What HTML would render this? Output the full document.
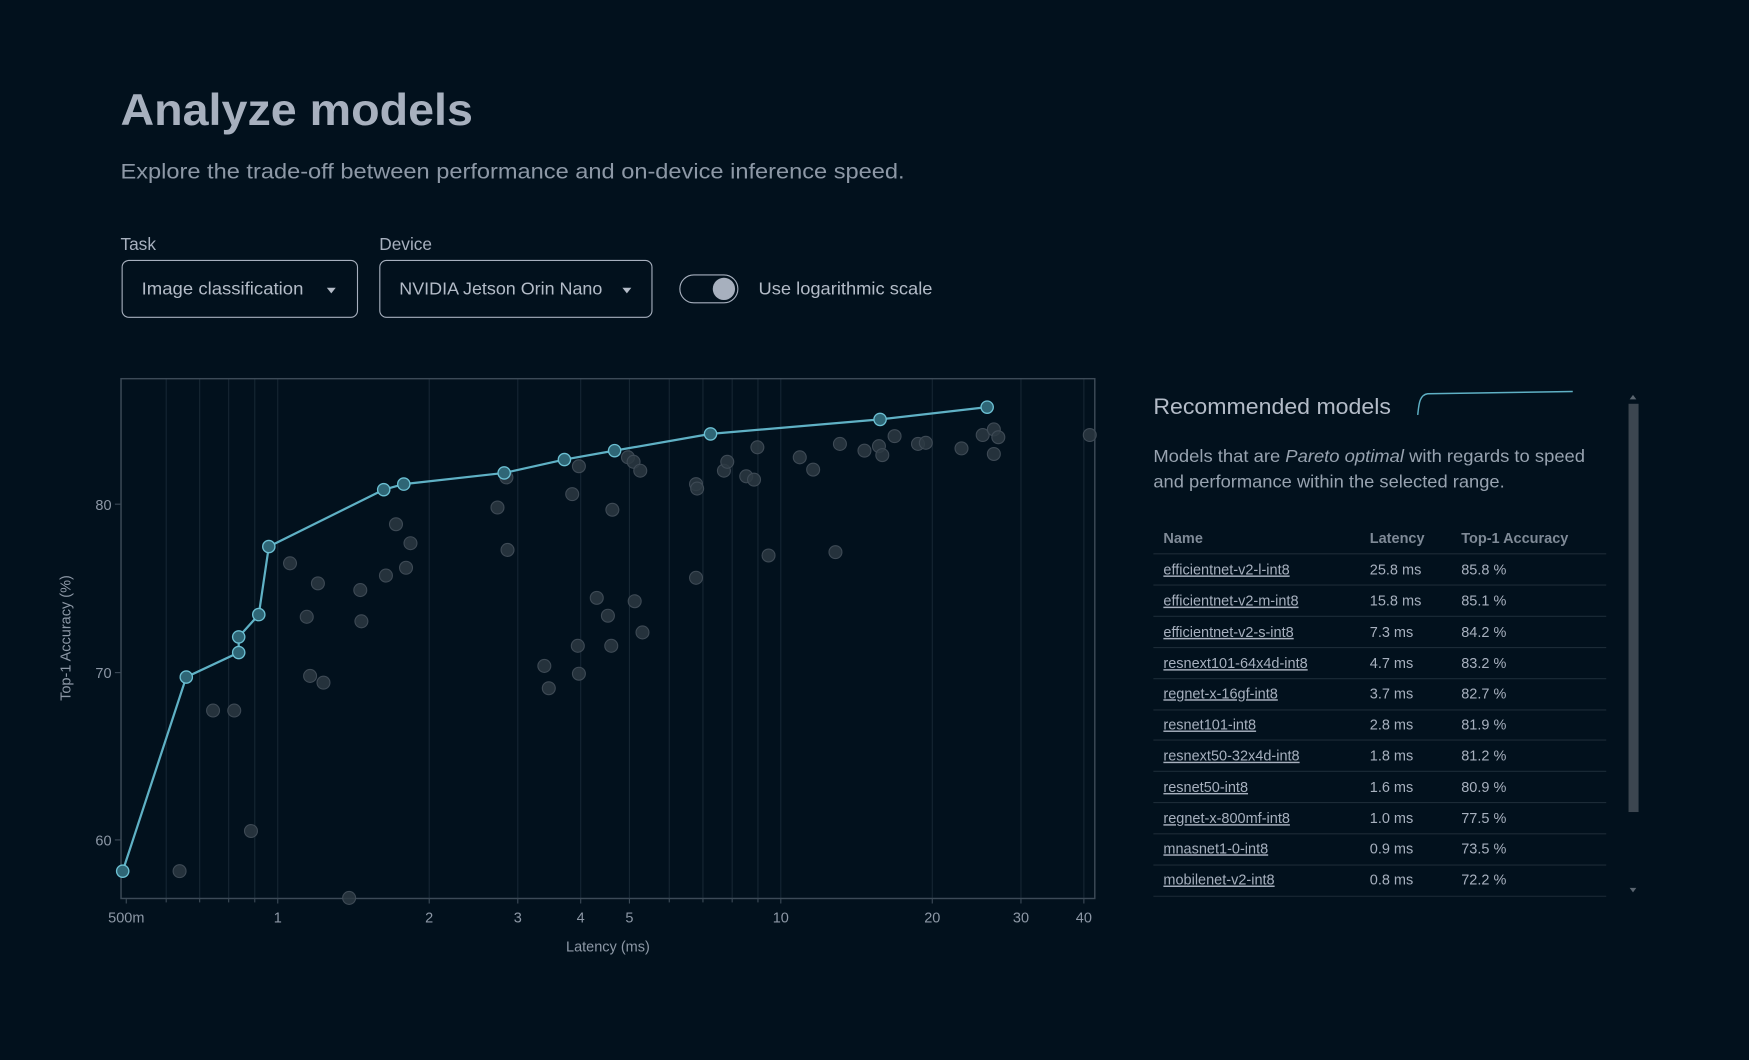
<!DOCTYPE html>
<html><head><meta charset="utf-8"><style>
html,body{margin:0;padding:0;background:#02111d;width:1749px;height:1060px;overflow:hidden}
svg{display:block}
text{font-family:"Liberation Sans",sans-serif}
</style></head><body>
<svg width="1749" height="1060" viewBox="0 0 1568 950.3" xmlns="http://www.w3.org/2000/svg">
<rect width="1568" height="951" fill="#02111d"/>
<text x="108" y="112" font-size="40" font-weight="bold" fill="#a7b0be" textLength="316" lengthAdjust="spacingAndGlyphs">Analyze models</text>
<text x="108" y="160" font-size="19" fill="#8d98a6" textLength="703" lengthAdjust="spacingAndGlyphs">Explore the trade-off between performance and on-device inference speed.</text>
<text x="108" y="224" font-size="15.5" fill="#a7b0be">Task</text>
<text x="340" y="224" font-size="15.5" fill="#a7b0be">Device</text>
<rect x="109.5" y="233.5" width="211" height="51" rx="6" fill="none" stroke="#a7b0be" stroke-width="1"/>
<text x="127" y="264" font-size="15.5" fill="#b4bcc8" textLength="145" lengthAdjust="spacingAndGlyphs">Image classification</text>
<path d="M293 258h8l-4 5z" fill="#b4bcc8"/>
<rect x="340.5" y="233.5" width="244" height="51" rx="6" fill="none" stroke="#a7b0be" stroke-width="1"/>
<text x="358" y="264" font-size="15.5" fill="#b4bcc8" textLength="182" lengthAdjust="spacingAndGlyphs">NVIDIA Jetson Orin Nano</text>
<path d="M558 258h8l-4 5z" fill="#b4bcc8"/>
<rect x="609.5" y="246.5" width="52" height="25" rx="12.5" fill="none" stroke="#a7b0be"/>
<circle cx="649" cy="259" r="10" fill="#a7b0be"/>
<text x="680" y="264" font-size="15.5" fill="#b4bcc8" textLength="156" lengthAdjust="spacingAndGlyphs">Use logarithmic scale</text>

<!-- plot -->
<g stroke="#162633" stroke-width="1">
<line x1="149" y1="340" x2="149" y2="805"/><line x1="179" y1="340" x2="179" y2="805"/>
<line x1="205" y1="340" x2="205" y2="805"/><line x1="228.4" y1="340" x2="228.4" y2="805"/>
<line x1="249" y1="340" x2="249" y2="805"/><line x1="384.8" y1="340" x2="384.8" y2="805"/>
<line x1="464.2" y1="340" x2="464.2" y2="805"/><line x1="520.6" y1="340" x2="520.6" y2="805"/>
<line x1="564.3" y1="340" x2="564.3" y2="805"/><line x1="600" y1="340" x2="600" y2="805"/>
<line x1="630.2" y1="340" x2="630.2" y2="805"/><line x1="656.4" y1="340" x2="656.4" y2="805"/>
<line x1="679.5" y1="340" x2="679.5" y2="805"/><line x1="700" y1="340" x2="700" y2="805"/>
<line x1="835.8" y1="340" x2="835.8" y2="805"/><line x1="915.3" y1="340" x2="915.3" y2="805"/>
<line x1="971.7" y1="340" x2="971.7" y2="805"/>
</g>
<rect x="108.5" y="339.5" width="873" height="466" fill="none" stroke="#3c4a57" stroke-width="1.3"/>
<g stroke="#3c4a57" stroke-width="1">
<line x1="113.2" y1="805" x2="113.2" y2="810"/><line x1="149" y1="805" x2="149" y2="809"/><line x1="179" y1="805" x2="179" y2="809"/><line x1="205" y1="805" x2="205" y2="809"/><line x1="228.4" y1="805" x2="228.4" y2="809"/><line x1="249" y1="805" x2="249" y2="810"/><line x1="384.8" y1="805" x2="384.8" y2="810"/><line x1="464.2" y1="805" x2="464.2" y2="810"/><line x1="520.6" y1="805" x2="520.6" y2="810"/><line x1="564.3" y1="805" x2="564.3" y2="810"/><line x1="600" y1="805" x2="600" y2="809"/><line x1="630.2" y1="805" x2="630.2" y2="809"/><line x1="656.4" y1="805" x2="656.4" y2="809"/><line x1="679.5" y1="805" x2="679.5" y2="809"/><line x1="700" y1="805" x2="700" y2="810"/><line x1="835.8" y1="805" x2="835.8" y2="810"/><line x1="915.3" y1="805" x2="915.3" y2="810"/><line x1="971.7" y1="805" x2="971.7" y2="810"/>
<line x1="103" y1="452" x2="108" y2="452"/><line x1="103" y1="603" x2="108" y2="603"/><line x1="103" y1="753" x2="108" y2="753"/>
</g>
<g font-size="13" fill="#8d98a6" text-anchor="middle">
<text x="113.2" y="827">500m</text><text x="249" y="827">1</text><text x="384.8" y="827">2</text><text x="464.2" y="827">3</text><text x="520.6" y="827">4</text><text x="564.3" y="827">5</text><text x="700" y="827">10</text><text x="835.8" y="827">20</text><text x="915.3" y="827">30</text><text x="971.7" y="827">40</text>
<text x="545" y="853">Latency (ms)</text>
<text transform="translate(63,572) rotate(-90)">Top-1 Accuracy (%)</text>
</g>
<g font-size="13" fill="#8d98a6" text-anchor="end">
<text x="100" y="457">80</text><text x="100" y="608">70</text><text x="100" y="758">60</text>
</g>
<g fill="#2c3842" fill-opacity="0.85" stroke="#3e4a55" stroke-width="1">
<circle cx="161" cy="781" r="5.8"/><circle cx="191" cy="637" r="5.8"/><circle cx="210" cy="637" r="5.8"/><circle cx="225" cy="745" r="5.8"/><circle cx="260" cy="505" r="5.8"/><circle cx="275" cy="553" r="5.8"/><circle cx="285" cy="523" r="5.8"/><circle cx="278" cy="606" r="5.8"/><circle cx="290" cy="612" r="5.8"/><circle cx="323" cy="529" r="5.8"/><circle cx="324" cy="557" r="5.8"/><circle cx="346" cy="516" r="5.8"/><circle cx="355" cy="470" r="5.8"/><circle cx="364" cy="509" r="5.8"/><circle cx="368" cy="487" r="5.8"/><circle cx="313" cy="805" r="5.8"/><circle cx="446" cy="455" r="5.8"/><circle cx="455" cy="493" r="5.8"/><circle cx="454" cy="428" r="5.8"/><circle cx="488" cy="597" r="5.8"/><circle cx="492" cy="617" r="5.8"/><circle cx="513" cy="443" r="5.8"/><circle cx="519" cy="418" r="5.8"/><circle cx="518" cy="579" r="5.8"/><circle cx="519" cy="604" r="5.8"/><circle cx="535" cy="536" r="5.8"/><circle cx="545" cy="552" r="5.8"/><circle cx="548" cy="579" r="5.8"/><circle cx="549" cy="457" r="5.8"/><circle cx="563" cy="410" r="5.8"/><circle cx="568" cy="414" r="5.8"/><circle cx="569" cy="539" r="5.8"/><circle cx="574" cy="422" r="5.8"/><circle cx="576" cy="567" r="5.8"/><circle cx="624" cy="434" r="5.8"/><circle cx="625" cy="438" r="5.8"/><circle cx="624" cy="518" r="5.8"/><circle cx="649" cy="422" r="5.8"/><circle cx="652" cy="414" r="5.8"/><circle cx="669" cy="427" r="5.8"/><circle cx="676" cy="430" r="5.8"/><circle cx="679" cy="401" r="5.8"/><circle cx="689" cy="498" r="5.8"/><circle cx="717" cy="410" r="5.8"/><circle cx="729" cy="421" r="5.8"/><circle cx="749" cy="495" r="5.8"/><circle cx="753" cy="398" r="5.8"/><circle cx="775" cy="404" r="5.8"/><circle cx="788" cy="400" r="5.8"/><circle cx="791" cy="408" r="5.8"/><circle cx="802" cy="391" r="5.8"/><circle cx="823" cy="398" r="5.8"/><circle cx="830" cy="397" r="5.8"/><circle cx="862" cy="402" r="5.8"/><circle cx="881" cy="390" r="5.8"/><circle cx="891" cy="385" r="5.8"/><circle cx="891" cy="407" r="5.8"/><circle cx="895" cy="392" r="5.8"/><circle cx="977" cy="390" r="5.8"/>
</g>
<polyline fill="none" stroke="#5fb1c5" stroke-width="2" points="110,781 167,607 214,585 214,571 232,551 241,490 344,439 362,434 452,424 506,412 551,404 637,389 789,376 885,365"/>
<g fill="#2f6676" stroke="#6cc0d3" stroke-width="1.2">
<circle cx="110" cy="781" r="5.5"/><circle cx="167" cy="607" r="5.5"/><circle cx="214" cy="585" r="5.5"/><circle cx="214" cy="571" r="5.5"/><circle cx="232" cy="551" r="5.5"/><circle cx="241" cy="490" r="5.5"/><circle cx="344" cy="439" r="5.5"/><circle cx="362" cy="434" r="5.5"/><circle cx="452" cy="424" r="5.5"/><circle cx="506" cy="412" r="5.5"/><circle cx="551" cy="404" r="5.5"/><circle cx="637" cy="389" r="5.5"/><circle cx="789" cy="376" r="5.5"/><circle cx="885" cy="365" r="5.5"/>
</g>

<!-- right panel -->
<text x="1034" y="371" font-size="20" fill="#b4bcc8" textLength="213" lengthAdjust="spacingAndGlyphs">Recommended models</text>
<path d="M1271 372 C1272 364 1272 354 1280 353 L1410 351" fill="none" stroke="#5fb1c5" stroke-width="1.3"/>
<text x="1034" y="414" font-size="15.5" fill="#98a3b0" textLength="387" lengthAdjust="spacingAndGlyphs">Models that are <tspan font-style="italic">Pareto optimal</tspan> with regards to speed</text>
<text x="1034" y="437" font-size="15.5" fill="#98a3b0" textLength="315" lengthAdjust="spacingAndGlyphs">and performance within the selected range.</text>
<rect x="1460" y="362" width="9" height="366" fill="#3c4650"/>
<path d="M1461 358h6l-3-4z M1461 796h6l-3 4z" fill="#5a6570"/>
<g font-size="13" font-weight="bold" fill="#7f8a97">
<text x="1043" y="487">Name</text><text x="1228" y="487">Latency</text><text x="1310" y="487">Top-1 Accuracy</text>
</g>
<g stroke="#1c2b37" stroke-width="1">
<line x1="1034" y1="496.5" x2="1440" y2="496.5"/><line x1="1034" y1="524.5" x2="1440" y2="524.5"/><line x1="1034" y1="552.5" x2="1440" y2="552.5"/><line x1="1034" y1="580.5" x2="1440" y2="580.5"/><line x1="1034" y1="608.5" x2="1440" y2="608.5"/><line x1="1034" y1="636.5" x2="1440" y2="636.5"/><line x1="1034" y1="663.5" x2="1440" y2="663.5"/><line x1="1034" y1="691.5" x2="1440" y2="691.5"/><line x1="1034" y1="719.5" x2="1440" y2="719.5"/><line x1="1034" y1="747.5" x2="1440" y2="747.5"/><line x1="1034" y1="775.5" x2="1440" y2="775.5"/><line x1="1034" y1="803.5" x2="1440" y2="803.5"/>
</g>
<g font-size="13" fill="#a7b0be">
<g text-decoration="underline">
<text x="1043" y="515">efficientnet-v2-l-int8</text>
<text x="1043" y="543">efficientnet-v2-m-int8</text>
<text x="1043" y="571">efficientnet-v2-s-int8</text>
<text x="1043" y="599">resnext101-64x4d-int8</text>
<text x="1043" y="626">regnet-x-16gf-int8</text>
<text x="1043" y="654">resnet101-int8</text>
<text x="1043" y="682">resnext50-32x4d-int8</text>
<text x="1043" y="710">resnet50-int8</text>
<text x="1043" y="738">regnet-x-800mf-int8</text>
<text x="1043" y="765">mnasnet1-0-int8</text>
<text x="1043" y="793">mobilenet-v2-int8</text>
</g>
<text x="1228" y="515">25.8 ms</text><text x="1310" y="515">85.8 %</text>
<text x="1228" y="543">15.8 ms</text><text x="1310" y="543">85.1 %</text>
<text x="1228" y="571">7.3 ms</text><text x="1310" y="571">84.2 %</text>
<text x="1228" y="599">4.7 ms</text><text x="1310" y="599">83.2 %</text>
<text x="1228" y="626">3.7 ms</text><text x="1310" y="626">82.7 %</text>
<text x="1228" y="654">2.8 ms</text><text x="1310" y="654">81.9 %</text>
<text x="1228" y="682">1.8 ms</text><text x="1310" y="682">81.2 %</text>
<text x="1228" y="710">1.6 ms</text><text x="1310" y="710">80.9 %</text>
<text x="1228" y="738">1.0 ms</text><text x="1310" y="738">77.5 %</text>
<text x="1228" y="765">0.9 ms</text><text x="1310" y="765">73.5 %</text>
<text x="1228" y="793">0.8 ms</text><text x="1310" y="793">72.2 %</text>
</g>
</svg>
</body></html>
